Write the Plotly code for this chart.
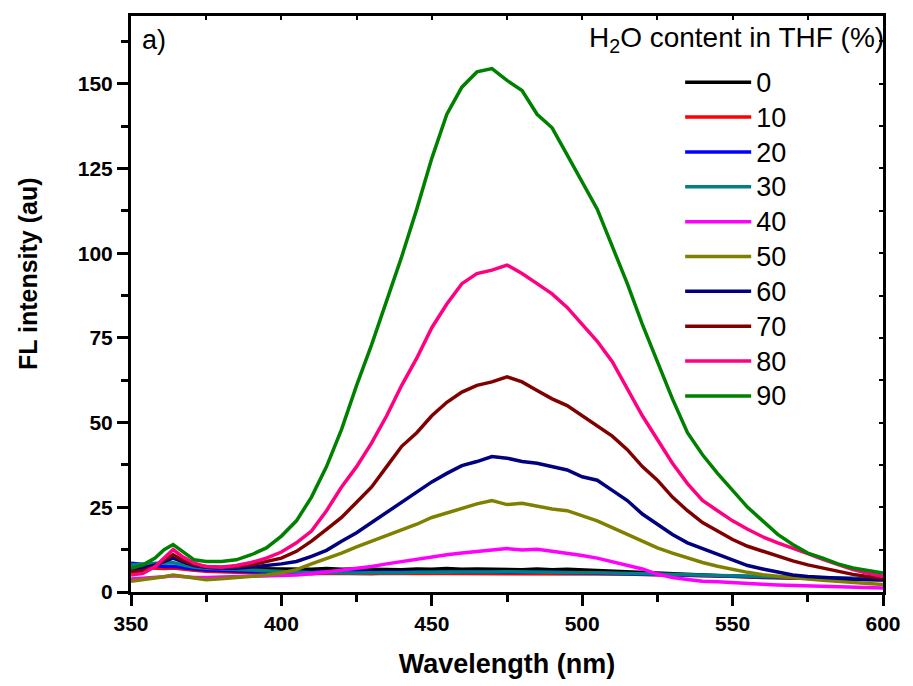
import plotly.graph_objects as go

wavelength = [350, 354, 358, 361, 364, 367, 371, 375, 380, 385, 390, 395, 400, 405, 410, 415, 420, 425,
              430, 435, 440, 445, 450, 455, 460, 465, 470, 475, 480, 485, 490, 495, 500, 505, 510, 515,
              520, 525, 530, 535, 540, 545, 550, 555, 560, 565, 570, 575, 580, 585, 590, 595, 600]

water_labels = ["0", "10", "20", "30", "40", "50", "60", "70", "80", "90"]
colors = ["#000000", "#FF0000", "#0000FF", "#008080", "#FF00FF", "#808000", "#000080", "#800000", "#FF0080", "#008000"]

fl_0 = [7.8, 7.6, 7.4, 7.2, 7.3, 7.1, 7.0, 6.9, 6.9, 6.8, 6.9, 6.8, 6.7, 6.8, 6.7, 6.9, 6.7, 6.8,
        6.7, 6.8, 6.6, 6.8, 6.7, 6.9, 6.7, 6.8, 6.7, 6.8, 6.6, 6.8, 6.6, 6.7, 6.5, 6.4, 6.2, 6.0,
        5.8, 5.6, 5.4, 5.2, 5.0, 4.8, 4.6, 4.4, 4.3, 4.2, 4.1, 4.0, 3.9, 3.8, 3.7, 3.6, 3.6]
fl_10 = [7.3, 7.2, 7.0, 6.9, 7.1, 6.7, 6.4, 6.1, 5.9, 5.8, 5.7, 5.6, 5.5, 5.5, 5.4, 5.5, 5.4, 5.5,
         5.4, 5.5, 5.5, 5.4, 5.5, 5.4, 5.5, 5.5, 5.4, 5.5, 5.4, 5.5, 5.4, 5.4, 5.3, 5.4, 5.3, 5.3,
         5.2, 5.1, 5.0, 4.9, 4.8, 4.7, 4.6, 4.5, 4.4, 4.3, 4.2, 4.1, 4.0, 3.9, 3.8, 3.7, 3.6]
fl_20 = [8.5, 8.2, 7.8, 7.5, 7.6, 7.2, 6.8, 6.5, 6.3, 6.1, 6.0, 5.9, 5.8, 5.8, 5.7, 5.7, 5.8, 5.7,
         5.8, 5.8, 5.9, 5.8, 5.9, 5.8, 5.9, 6.0, 5.9, 5.9, 5.8, 5.9, 5.8, 5.7, 5.6, 5.6, 5.5, 5.5,
         5.4, 5.3, 5.2, 5.1, 5.0, 4.9, 4.8, 4.7, 4.6, 4.5, 4.4, 4.3, 4.2, 4.1, 4.0, 3.9, 3.8]
fl_30 = [8.0, 8.3, 8.5, 8.5, 8.7, 8.0, 7.3, 7.0, 6.8, 6.6, 6.4, 6.2, 6.0, 5.8, 5.7, 5.7, 5.6, 5.6,
         5.7, 5.6, 5.7, 5.8, 5.7, 5.8, 5.9, 5.8, 5.9, 6.0, 5.9, 5.9, 5.8, 5.8, 5.7, 5.7, 5.6, 5.5,
         5.4, 5.3, 5.2, 5.1, 5.0, 4.9, 4.8, 4.7, 4.6, 4.5, 4.4, 4.3, 4.2, 4.1, 4.0, 3.9, 3.8]
fl_40 = [3.8, 4.0, 4.2, 4.5, 4.8, 4.6, 4.3, 4.3, 4.4, 4.5, 4.6, 4.6, 4.8, 5.0, 5.4, 5.9, 6.4, 6.9,
         7.5, 8.3, 9.0, 9.7, 10.3, 11.0, 11.5, 12.0, 12.3, 12.8, 12.4, 12.6, 12.0, 11.5, 10.8, 10.0, 9.0, 8.0,
         6.8, 5.3, 4.3, 3.7, 3.2, 3.0, 2.7, 2.5, 2.3, 2.1, 2.0, 1.8, 1.6, 1.5, 1.4, 1.3, 1.2]
fl_50 = [3.2, 3.6, 4.0, 4.5, 5.0, 4.6, 3.9, 3.6, 3.9, 4.2, 4.5, 5.0, 5.6, 6.6, 8.3, 9.8, 11.5, 13.3,
         15.0, 16.5, 18.3, 20.0, 22.0, 23.3, 24.7, 26.0, 27.0, 25.8, 26.2, 25.3, 24.5, 24.0, 22.5, 21.0, 19.0, 17.0,
         15.0, 13.0, 11.5, 10.0, 8.7, 7.6, 6.6, 5.8, 5.1, 4.6, 4.2, 3.8, 3.5, 3.1, 2.8, 2.5, 2.2]
fl_60 = [6.5, 7.0, 8.0, 9.0, 10.0, 9.0, 7.8, 7.3, 7.0, 7.0, 7.3, 7.8, 8.3, 9.0, 10.5, 12.3, 15.0, 17.5,
         20.5, 23.5, 26.5, 29.5, 32.5, 35.0, 37.3, 38.5, 40.0, 39.5, 38.5, 38.0, 37.0, 36.0, 34.0, 33.0, 30.0, 27.0,
         23.0, 20.0, 17.0, 14.5, 12.8, 11.0, 9.5, 7.8, 6.8, 5.8, 5.0, 4.6, 4.3, 4.0, 3.8, 3.7, 3.6]
fl_70 = [6.0, 6.3, 7.5, 9.5, 11.0, 9.5, 8.0, 7.5, 7.3, 7.5, 8.0, 9.0, 10.0, 12.0, 15.0, 18.5, 22.0, 26.5,
         31.0, 37.0, 43.0, 47.0, 52.0, 56.0, 59.0, 61.0, 62.0, 63.5, 62.0, 59.5, 57.0, 55.0, 52.0, 49.0, 46.0, 42.0,
         37.0, 33.0, 28.0, 24.0, 20.5, 18.0, 15.5, 13.5, 12.0, 10.5, 9.2, 8.0, 7.0, 6.0, 5.2, 4.6, 4.1]
fl_80 = [5.0, 5.5, 7.5, 10.0, 12.5, 10.5, 8.5, 7.5, 7.3, 7.8, 8.7, 10.0, 11.8, 14.5, 18.0, 24.0, 31.0, 37.0,
         44.0, 52.0, 61.0, 69.0, 78.0, 85.0, 91.0, 94.0, 95.0, 96.5, 94.0, 91.0, 88.0, 84.0, 79.0, 74.0, 68.0, 60.0,
         52.0, 45.0, 38.0, 32.0, 27.0, 24.0, 21.0, 18.5, 16.3, 14.5, 13.0, 11.3, 9.6, 8.0, 6.6, 5.5, 4.6]
fl_90 = [7.0, 8.0, 10.0, 12.5, 14.0, 12.0, 9.5, 9.0, 9.0, 9.5, 11.0, 13.0, 16.5, 21.0, 28.0, 37.0, 48.0, 61.0,
         73.0, 86.0, 99.0, 113.0, 128.0, 141.0, 149.0, 153.5, 154.5, 151.0, 148.0, 141.0, 137.0, 129.0, 121.0, 113.0, 102.0, 91.0,
         79.0, 68.0, 57.0, 47.0, 40.5, 35.0, 30.0, 25.0, 21.0, 17.0, 14.0, 11.5, 10.0, 8.3, 7.1, 6.3, 5.6]

series = [fl_0, fl_10, fl_20, fl_30, fl_40, fl_50, fl_60, fl_70, fl_80, fl_90]

FONT = "Liberation Sans"
L, R, T, B = 131, 22, 16, 92
W, H = 913, 686
pw, ph = W - L - R, H - T - B

fig = go.Figure()
for name, vals, col in zip(water_labels, series, colors):
    fig.add_trace(go.Scatter(x=wavelength, y=vals, mode="lines",
                             name='<span style="font-size:27px">' + name + '</span>',
                             line=dict(color=col, width=3.5)))

# overlay axes for inward mirror ticks on top/right
fig.add_trace(go.Scatter(x=[350], y=[0], xaxis="x2", yaxis="y2", mode="markers",
                         marker=dict(opacity=0), showlegend=False, hoverinfo="skip"))

tick_font = dict(family=FONT, size=21, color="black", weight="bold")

fig.update_layout(
    width=W, height=H,
    margin=dict(l=L, r=R, t=T, b=B),
    paper_bgcolor="white", plot_bgcolor="white",
    xaxis=dict(range=[350, 600], dtick=50, showline=True, linecolor="black", linewidth=3,
               ticks="outside", ticklen=11, tickwidth=3, tickcolor="black", showgrid=False, zeroline=False,
               minor=dict(dtick=25, ticks="outside", ticklen=7, tickwidth=3, tickcolor="black"),
               tickfont=tick_font,
               title=dict(text="Wavelength (nm)", font=dict(family=FONT, size=27, color="black", weight="bold"),
                          standoff=20)),
    yaxis=dict(range=[0, 170], dtick=25, showline=True, linecolor="black", linewidth=3,
               ticks="outside", ticklen=11, tickwidth=3, tickcolor="black", showgrid=False, zeroline=False,
               minor=dict(dtick=12.5, ticks="outside", ticklen=7, tickwidth=3, tickcolor="black"),
               tickfont=tick_font),
    xaxis2=dict(overlaying="x", side="top", anchor="y2", range=[350, 600], dtick=25, showticklabels=False,
                ticks="inside", ticklen=4, tickwidth=2, tickcolor="black", showline=True, linecolor="black",
                linewidth=3, showgrid=False, zeroline=False),
    yaxis2=dict(overlaying="y", side="right", anchor="x2", range=[0, 170], dtick=12.5, showticklabels=False,
                ticks="inside", ticklen=4, tickwidth=2, tickcolor="black", showline=True, linecolor="black",
                linewidth=3, showgrid=False, zeroline=False),
    legend=dict(x=(686 - L) / pw, xanchor="left", y=(H - B - 60) / ph, yanchor="top",
                font=dict(family=FONT, size=24.5, color="black"),
                bgcolor="rgba(0,0,0,0)", borderwidth=0, itemwidth=66, tracegroupgap=0),
    showlegend=True,
)

fig.add_annotation(text="FL intensity (au)", textangle=-90, xref="paper", yref="paper",
                   x=0, xshift=-(L - 28), y=(H - B - 275) / ph, xanchor="center", yanchor="middle",
                   showarrow=False, font=dict(family=FONT, size=25, color="black", weight="bold"))
fig.add_annotation(text="H<sub>2</sub>O content in THF (%)", xref="paper", yref="paper",
                   x=1, xshift=3, y=1, yshift=-4, xanchor="right", yanchor="top",
                   showarrow=False, font=dict(family=FONT, size=28, color="black"))
fig.add_annotation(text="a)", xref="paper", yref="paper",
                   x=0, xshift=9, y=1, yshift=-7, xanchor="left", yanchor="top",
                   showarrow=False, font=dict(family=FONT, size=27, color="black"))

fig.write_html("out.html")
